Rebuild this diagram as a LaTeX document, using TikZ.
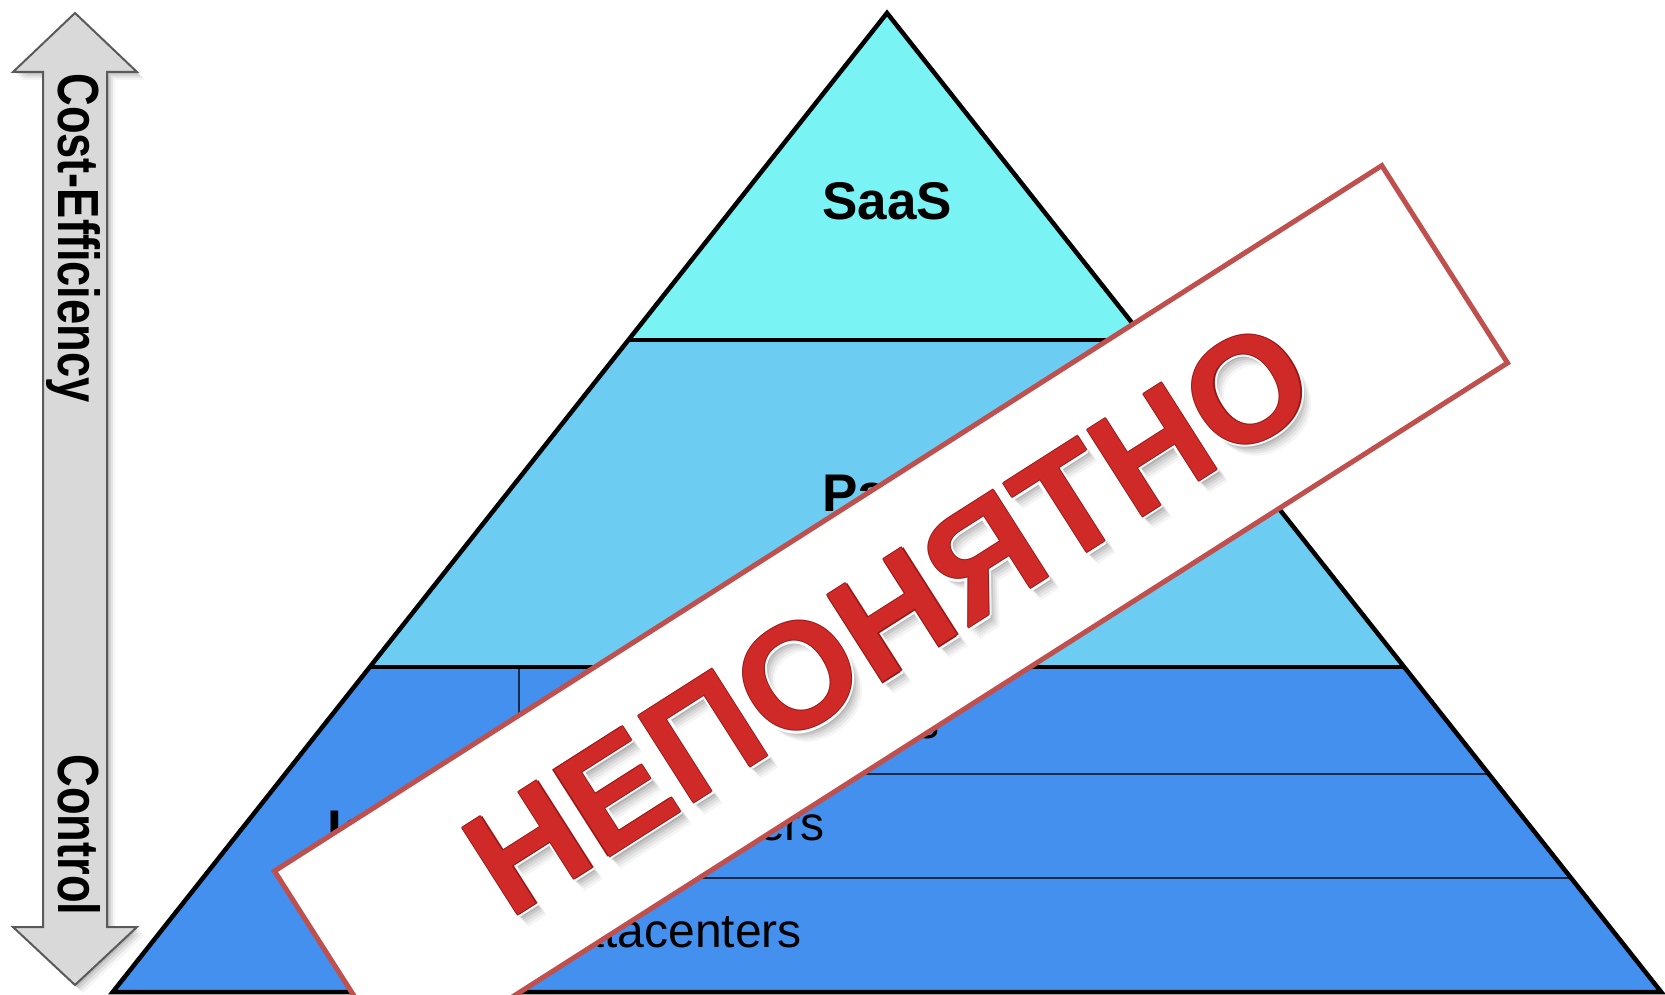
\documentclass[tikz,border=0pt]{standalone}
\usepackage{fontspec}
\usepackage{graphicx}
\setmainfont{Liberation Sans}
\definecolor{saas}{HTML}{79F3F4}
\definecolor{paas}{HTML}{6DCCF2}
\definecolor{iaas}{HTML}{4390EF}
\definecolor{rowline}{HTML}{1B2A4A}
\definecolor{arrowfill}{HTML}{D9D9D9}
\definecolor{arrowedge}{HTML}{5A5A5A}
\definecolor{stampred}{HTML}{C0504D}
\definecolor{txtred}{HTML}{CF2A27}
\definecolor{txtdark}{HTML}{9A1616}
\begin{document}
\begin{tikzpicture}[x=1pt,y=-1pt,
  lbl/.style={font=\fontsize{53}{60}\selectfont\bfseries, inner sep=0, anchor=base},
  rowlbl/.style={font=\fontsize{48}{54}\selectfont, inner sep=0, anchor=base east},
  arrtxt/.style={font=\fontsize{58}{64}\selectfont\bfseries, inner sep=0, anchor=base, rotate=-90},
  stamptxt/.style={font=\fontsize{150}{150}\selectfont\bfseries, inner sep=0, anchor=base},
  edge/.style={line width=4.5pt, black, line join=miter},
  thinline/.style={line width=2.5pt, rowline}]
\useasboundingbox (0,0) rectangle (1665,995);
\clip (0,0) rectangle (1665,995);
\fill[white] (0,0) rectangle (1665,995);

% ---- pyramid ----
\coordinate (A) at (887,13);
\coordinate (SL) at (628.4,340);
\coordinate (SR) at (1145.6,340);
\coordinate (PL) at (369.8,667);
\coordinate (PR) at (1404.2,667);
\coordinate (BL) at (112.8,992);
\coordinate (BR) at (1661.2,992);
\coordinate (D1) at (519,667);
\coordinate (D2) at (519,992);
\coordinate (R1L) at (519,774);
\coordinate (R1R) at (1488.8,774);
\coordinate (R2L) at (519,878);
\coordinate (R2R) at (1571,878);

\fill[saas] (A) -- (SR) -- (SL) -- cycle;
\fill[paas] (SL) -- (SR) -- (PR) -- (PL) -- cycle;
\fill[iaas] (PL) -- (PR) -- (BR) -- (BL) -- cycle;
\draw[thinline] (R1L) -- (R1R);
\draw[thinline] (R2L) -- (R2R);
\draw[thinline] (D1) -- (D2);
\draw[edge] (SL) -- (SR);
\draw[edge] (PL) -- (PR);
\draw[edge] (A) -- (BR) -- (BL) -- cycle;

\node[lbl] (saasl) at (887,219) {SaaS};
\node[lbl] (paasl) at (887,511) {PaaS};
\node[lbl] (iaasl) at (382,847) {IaaS};
\node[rowlbl] (vm) at (940,738) {Virtual Machines};
\node[rowlbl] (srv) at (825,840) {Servers};
\node[rowlbl] (dc) at (802,947) {Datacenters};

% ---- double arrow ----
\foreach \o/\op in {8/0.04,6/0.06,4/0.08,2/0.1}
  \fill[black, opacity=\op, shift={(\o,\o)}]
    (75,13) -- (137,72) -- (107,72) -- (107,927) -- (137,927) -- (75,985)
    -- (13,927) -- (43,927) -- (43,72) -- (13,72) -- cycle;
\draw[fill=arrowfill, draw=arrowedge, line width=2pt, line join=miter]
    (75,13) -- (137,72) -- (107,72) -- (107,927) -- (137,927) -- (75,985)
    -- (13,927) -- (43,927) -- (43,72) -- (13,72) -- cycle;
\node[arrtxt] (cost) at (58,238) {\scalebox{0.78}[1]{Cost-Efficiency}};
\node[arrtxt] (ctrl) at (58,835) {\scalebox{0.78}[1]{Control}};

% ---- stamp ----
\begin{scope}[shift={(891,617)}, rotate=32.5]
  \draw[stampred, line width=5pt, fill=white] (-656.5,-117) rectangle (656.5,117);
\end{scope}
\coordinate (T) at (917,661);
\foreach \dx/\dy/\op [count=\i] in {3/-4/0.10,5/-6/0.08,7/-8/0.06,9/-10/0.05,11/-12/0.04}
  \node[stamptxt, text=black, opacity=\op, xshift=\dx pt, yshift=\dy pt, rotate=32.5] (sh\i) at (T) {НЕПОНЯТНО};
\foreach \dx/\dy [count=\i] in {3.5/0,2.5/2.5,0/3.5,-2.5/2.5,-3.5/0,-2.5/-2.5,0/-3.5,2.5/-2.5}
  \node[stamptxt, text=white, xshift=\dx pt, yshift=\dy pt, rotate=32.5] (wo\i) at (T) {НЕПОНЯТНО};
\foreach \dx/\dy [count=\i] in {1.2/0,0/1.2,-1.2/0,0/-1.2}
  \node[stamptxt, text=txtdark, xshift=\dx pt, yshift=\dy pt, rotate=32.5] (dk\i) at (T) {НЕПОНЯТНО};
\node[stamptxt, text=txtred, rotate=32.5] (stamp) at (T) {НЕПОНЯТНО};
\end{tikzpicture}
\end{document}
